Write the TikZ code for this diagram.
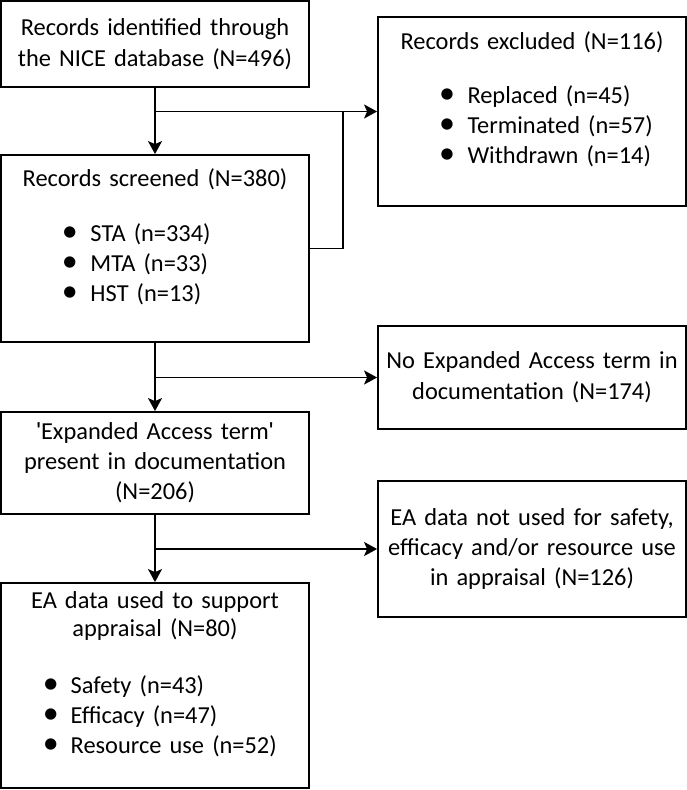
\documentclass[tikz,border=0pt]{standalone}
\usepackage{fontspec}
\newfontfamily\boxfont{Carlito}
\newfontfamily\quotefont{Liberation Sans}
\usetikzlibrary{arrows.meta}

\begin{document}
\begin{tikzpicture}[x=1pt, y=-1pt,
  box/.style={draw, line width=1.8pt, rectangle, minimum width=308pt,
    text width=308pt, inner xsep=0pt, inner ysep=0pt, align=center,
    font=\boxfont\fontsize{24.4}{30}\selectfont},
  flow/.style={line width=1.8pt, -{Stealth[length=13pt, width=14pt, inset=3pt]}},
  link/.style={line width=1.8pt}]
\useasboundingbox (0,0) rectangle (687,790);

  \node[box, minimum height=86pt] (Ident) at (155,44) {Records identified through\\[1pt]
    the NICE database (N=496)};
  \node[box, minimum height=189pt, text depth=141.3pt] (Excl) at (532,111.5) {Records excluded (N=116)\\[24pt]
    \hspace*{61pt}\begin{tabular}[t]{@{}p{28.5pt}@{}l@{}}
      {\fontsize{32}{30}\selectfont\textbullet} & Replaced (n=45)\\
      {\fontsize{32}{30}\selectfont\textbullet} & Terminated (n=57)\\
      {\fontsize{32}{30}\selectfont\textbullet} & Withdrawn (n=14)
    \end{tabular}\hspace*{0pt plus 1filll}\null};
  \node[box, minimum height=187pt, text depth=141.3pt] (Screened) at (155,248.5) {Records screened (N=380)\\[25pt]
    \hspace*{61pt}\begin{tabular}[t]{@{}p{28.5pt}@{}l@{}}
      {\fontsize{32}{30}\selectfont\textbullet} & STA (n=334)\\
      {\fontsize{32}{30}\selectfont\textbullet} & MTA (n=33)\\
      {\fontsize{32}{30}\selectfont\textbullet} & HST (n=13)
    \end{tabular}\hspace*{0pt plus 1filll}\null};
  \node[box, minimum height=103pt] (NoTerm) at (532,377.5) {No Expanded Access term in\\[1pt]
    documentation (N=174)};
  \node[box, minimum height=102pt] (Present) at (155,463) {{\quotefont'}Expanded Access term{\quotefont'}\\
    present in documentation\\ (N=206)};
  \node[box, minimum height=136pt] (NotUsed) at (532,549) {EA data not used for safety,\\
    efficacy and/or resource use\\ in appraisal (N=126)};
  \node[box, minimum height=205pt, text depth=171.3pt] (Used) at (155,685.5) {EA data used to support\\[-2pt]
    appraisal (N=80)\\[27pt]
    \hspace*{42pt}\begin{tabular}[t]{@{}p{27.7pt}@{}l@{}}
      {\fontsize{32}{30}\selectfont\textbullet} & Safety (n=43)\\
      {\fontsize{32}{30}\selectfont\textbullet} & Efficacy (n=47)\\
      {\fontsize{32}{30}\selectfont\textbullet} & Resource use (n=52)
    \end{tabular}\hspace*{0pt plus 1filll}\null};

  \coordinate (Loop) at (343,0);

  \draw[flow] (Ident) -- (Screened);
  \draw[flow] (Ident.south |- Excl.west) -- (Excl.west);
  \draw[link] (Screened.east) -| (Loop |- Excl.west);
  \draw[flow] (Screened) -- (Present);
  \draw[flow] (Screened.south |- NoTerm.west) -- (NoTerm.west);
  \draw[flow] (Present) -- (Used);
  \draw[flow] (Present.south |- NotUsed.west) -- (NotUsed.west);
\end{tikzpicture}
\end{document}
